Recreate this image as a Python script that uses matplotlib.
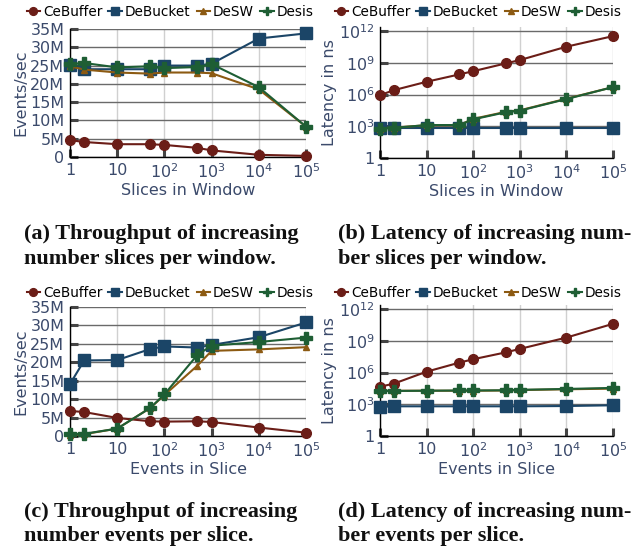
import matplotlib
matplotlib.use("Agg")
import matplotlib.pyplot as plt
from matplotlib.ticker import FixedLocator, NullLocator
from matplotlib.lines import Line2D

x_vals = [1, 2, 10, 50, 100, 500, 1000, 10000, 100000]
series_names = ["CeBuffer", "DeBucket", "DeSW", "Desis"]

# (a) throughput, slices in window (M events/sec)
tp_slices_cebuffer = [4.6, 4.1, 3.5, 3.5, 3.3, 2.5, 1.8, 0.6, 0.3]
tp_slices_debucket = [25.2, 24.0, 24.0, 24.0, 25.0, 25.0, 25.5, 32.4, 33.8]
tp_slices_desw = [24.8, 23.9, 23.1, 22.8, 23.1, 23.1, 22.9, 18.5, 8.3]
tp_slices_desis = [25.4, 25.7, 24.5, 24.8, 24.3, 24.6, 25.4, 19.1, 8.3]

# (b) latency, slices in window (ns)
lat_slices_cebuffer = [8.7e5, 2.6e6, 1.6e7, 7.9e7, 1.6e8, 8.7e8, 1.8e9, 3.3e10, 3.3e11]
lat_slices_debucket = [700, 700, 700, 700, 700, 700, 700, 700, 700]
lat_slices_desw = [600, 750, 1250, 1250, 5000, 2.3e4, 3.2e4, 4.0e5, 5.0e6]
lat_slices_desis = [600, 700, 1300, 1300, 4500, 2.1e4, 3.0e4, 3.7e5, 5.0e6]

# (c) throughput, events in slice (M events/sec)
tp_events_cebuffer = [6.8, 6.5, 4.9, 4.0, 3.9, 4.0, 3.8, 2.3, 0.9]
tp_events_debucket = [14.1, 20.5, 20.6, 23.6, 24.3, 24.0, 24.7, 26.8, 30.8]
tp_events_desw = [0.2, 0.5, 2.0, 7.6, 11.1, 19.1, 23.1, 23.5, 24.1]
tp_events_desis = [0.5, 0.6, 2.0, 7.6, 11.3, 22.0, 24.5, 25.5, 26.7]

# (d) latency, events in slice (ns)
lat_events_cebuffer = [4.5e4, 9e4, 1.2e6, 8.5e6, 1.8e7, 8e7, 1.7e8, 2e9, 4e10]
lat_events_debucket = [560, 640, 640, 640, 640, 640, 640, 680, 800]
lat_events_desw = [1.9e4, 1.9e4, 1.9e4, 1.9e4, 1.9e4, 2.0e4, 2.2e4, 2.6e4, 3.0e4]
lat_events_desis = [1.8e4, 1.8e4, 1.9e4, 2.0e4, 2.0e4, 2.1e4, 2.3e4, 2.8e4, 3.5e4]

x_tick_vals = [1, 10, 100, 1000, 10000, 100000]
x_tick_labels = ["1", "10", r"$10^{2}$", r"$10^{3}$", r"$10^{4}$", r"$10^{5}$"]
tp_tick_vals = [0, 5e6, 10e6, 15e6, 20e6, 25e6, 30e6, 35e6]
tp_tick_labels = ["0", "5M", "10M", "15M", "20M", "25M", "30M", "35M"]
lat_tick_vals = [1, 1e3, 1e6, 1e9, 1e12]
lat_tick_labels = ["1", r"$10^{3}$", r"$10^{6}$", r"$10^{9}$", r"$10^{12}$"]

captions = [
    ["(a) Throughput of increasing", "number slices per window."],
    ["(b) Latency of increasing num-", "ber slices per window."],
    ["(c) Throughput of increasing", "number events per slice."],
    ["(d) Latency of increasing num-", "ber events per slice."],
]

colors = {"CeBuffer": "#6b1d17", "DeBucket": "#1b4567", "DeSW": "#8c5a12", "Desis": "#1e5e34"}
markers = {"CeBuffer": "o", "DeBucket": "s", "DeSW": "^", "Desis": "P"}
msizes = {"CeBuffer": 7, "DeBucket": 8, "DeSW": 5, "Desis": 8}
label_color = "#3b4a6b"

plt.rcParams["font.family"] = ["DejaVu Sans"]
plt.rcParams["mathtext.fontset"] = "dejavusans"

W, H = 639, 549
fig = plt.figure(figsize=(W / 100, H / 100), dpi=100)


def add_ax(left, top, right, bottom):
    return fig.add_axes([left / W, 1 - bottom / H, (right - left) / W, (bottom - top) / H])


def style(ax, log_y, xlabel, ylabel):
    ax.set_xscale("log")
    ax.set_xlim(1, 1e5)
    ax.xaxis.set_major_locator(FixedLocator(x_tick_vals))
    ax.set_xticklabels(x_tick_labels)
    ax.xaxis.set_minor_locator(NullLocator())
    if log_y:
        ax.set_yscale("log")
        ax.set_ylim(1, 2.4e12)
        ax.yaxis.set_major_locator(FixedLocator(lat_tick_vals))
        ax.set_yticklabels(lat_tick_labels)
        ax.yaxis.set_minor_locator(NullLocator())
    else:
        ax.set_ylim(0, 35e6)
        ax.yaxis.set_major_locator(FixedLocator(tp_tick_vals))
        ax.set_yticklabels(tp_tick_labels)
    for s in ["top", "right"]:
        ax.spines[s].set_visible(False)
    for s in ["left", "bottom"]:
        ax.spines[s].set_color("black")
        ax.spines[s].set_linewidth(1.0)
    ax.grid(axis="y", color="#6a6a6a", linewidth=1.0)
    ax.grid(axis="x", color="#d0d0d0", linewidth=1.0)
    ax.set_axisbelow(True)
    ax.tick_params(direction="in", length=6, width=2.2, color="#444444",
                   labelsize=11.5, labelcolor=label_color, pad=4)
    ax.set_xlabel(xlabel, fontsize=11.5, color=label_color, labelpad=1)
    ax.set_ylabel(ylabel, fontsize=11.5, color=label_color, labelpad=1)


panels = [
    ((70, 29, 306, 157), False, "Slices in Window", "Events/sec",
     [tp_slices_cebuffer, tp_slices_debucket, tp_slices_desw, tp_slices_desis], 1e6),
    ((380, 27, 613, 158), True, "Slices in Window", "Latency in ns",
     [lat_slices_cebuffer, lat_slices_debucket, lat_slices_desw, lat_slices_desis], 1),
    ((70, 307, 306, 436), False, "Events in Slice", "Events/sec",
     [tp_events_cebuffer, tp_events_debucket, tp_events_desw, tp_events_desis], 1e6),
    ((380, 305, 613, 436), True, "Events in Slice", "Latency in ns",
     [lat_events_cebuffer, lat_events_debucket, lat_events_desw, lat_events_desis], 1),
]

legend_centers = [(170, 12), (478, 12), (170, 293), (478, 293)]
caption_x = [24, 338, 24, 338]
caption_baselines = [(239, 264), (239, 264), (517, 541), (517, 541)]

for i, (box, log_y, xl, yl, data, scale) in enumerate(panels):
    ax = add_ax(*box)
    style(ax, log_y, xl, yl)
    for name, vals in zip(series_names, data):
        ax.plot(x_vals, [v * scale for v in vals], color=colors[name], marker=markers[name],
                markersize=msizes[name], linewidth=1.5, clip_on=False, zorder=3)
    handles = [Line2D([0], [0], color=colors[n], marker=markers[n], markersize=msizes[n] * 0.8,
                      linewidth=1.5) for n in series_names]
    cx, cy = legend_centers[i]
    fig.legend(handles, series_names, loc="center", bbox_to_anchor=(cx / W, 1 - cy / H),
               ncol=4, frameon=False, fontsize=9.8, handlelength=1.0, handletextpad=0.2,
               columnspacing=0.45, borderaxespad=0, borderpad=0)
    for line, yb in zip(captions[i], caption_baselines[i]):
        fig.text(caption_x[i] / W, 1 - yb / H, line, ha="left", va="baseline", fontsize=16,
                 fontweight="bold", family="Liberation Serif", color="#111111")

fig.savefig("out.png", dpi=100)
